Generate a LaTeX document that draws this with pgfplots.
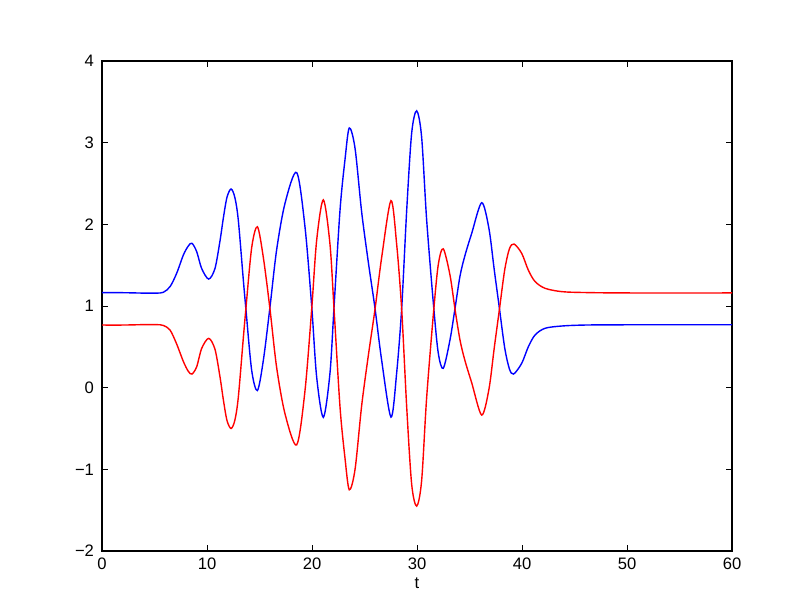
\documentclass[border=0pt]{standalone}
\usepackage{fontspec}
\setmainfont{Liberation Sans}
\usepackage{pgfplots}
\pgfplotsset{compat=1.18}
\usetikzlibrary{calc}

\pgfplotstableread{
t y
0 1.163
2 1.163
4 1.158
5.2 1.158
5.84 1.168
6.48 1.237
7.11 1.40
7.75 1.625
8.22 1.735
8.57 1.768
9.02 1.665
9.49 1.46
10.16 1.33
10.76 1.46
11.24 1.80
11.56 2.08
11.9 2.33
12.29 2.433
12.65 2.33
12.98 2.053
13.46 1.318
13.7 0.97
14.25 0.217
14.8 -0.035
15.37 0.339
16.0 0.99
16.63 1.686
17.43 2.258
18.54 2.635
19.33 1.971
19.97 1.0
20.44 0.135
21.08 -0.363
21.71 0.176
22.1 0.99
22.67 2.176
23.14 2.79
23.55 3.18
24.1 2.93
24.73 2.15
25.36 1.54
26.0 0.972
26.63 0.339
27.52 -0.36
28.06 0.176
28.54 0.97
29.02 2.176
29.49 3.115
29.97 3.39
30.44 3.07
30.92 2.053
31.6 0.97
32.03 0.42
32.5 0.237
33.14 0.584
33.62 0.97
34.1 1.37
34.57 1.62
35.21 1.89
36.16 2.265
36.85 1.95
37.35 1.45
37.85 0.97
38.35 0.49
38.8 0.23
39.2 0.167
39.97 0.298
40.6 0.50
41.24 0.645
42.19 0.727
43.78 0.755
46 0.767
50 0.77
60 0.77
}\blue

\pgfplotstableread{
t y
0 0.767
2 0.767
4 0.772
5.2 0.772
5.84 0.762
6.48 0.706
7.11 0.535
7.75 0.32
8.22 0.20
8.57 0.167
9.02 0.257
9.49 0.48
10.16 0.604
10.76 0.47
11.24 0.13
11.56 -0.15
11.9 -0.40
12.29 -0.50
12.65 -0.40
12.98 -0.12
13.46 0.61
13.7 0.96
14.25 1.71
14.8 1.97
15.37 1.59
16.0 0.96
16.63 0.25
17.43 -0.32
18.54 -0.70
19.33 -0.04
19.97 0.96
20.44 1.80
21.08 2.30
21.71 1.76
22.1 0.96
22.67 -0.24
23.14 -0.86
23.55 -1.25
24.1 -1.0
24.73 -0.22
25.36 0.39
26.0 0.96
26.63 1.59
27.52 2.29
28.06 1.76
28.54 0.96
29.02 -0.24
29.49 -1.18
29.97 -1.45
30.44 -1.14
30.92 -0.12
31.6 0.96
32.03 1.51
32.5 1.70
33.14 1.38
33.62 0.96
34.1 0.58
34.57 0.33
35.21 0.06
36.16 -0.335
36.85 -0.02
37.35 0.48
37.85 0.96
38.35 1.44
38.8 1.70
39.24 1.759
39.97 1.645
40.6 1.44
41.24 1.30
42.19 1.217
43.78 1.176
46 1.165
50 1.16
60 1.16
}\red

\begin{document}
\begin{tikzpicture}
\begin{axis}[
  name=ax,
  scale only axis,
  width=315pt, height=245pt,
  xmin=0, xmax=60, ymin=-2, ymax=4,
  xtick={0,10,...,60},
  ytick={-2,-1,0,1,2,3,4},
  yticklabels={−2,−1,0,1,2,3,4},
  tick align=inside,
  major tick length=2.8pt,
  tick style={black, line width=0.4pt},
  axis line style={line width=0.6pt},
  tick label style={font=\fontsize{8.3}{10}\selectfont},
  /pgf/number format/assume math mode=true,
  xlabel={t},
  xlabel style={font=\fontsize{8.3}{10}\selectfont, yshift=3pt},
  yticklabel style={xshift=-0.5pt},
]
\addplot[blue, line width=0.7pt, smooth] table[x=t, y=y] {\blue};
\addplot[red, line width=0.7pt, smooth] table[x=t, y=y] {\red};
\end{axis}
\pgfresetboundingbox
\path[use as bounding box] ($(ax.south west)+(-51pt,-30.5pt)$) rectangle ++(406pt,306pt);
\end{tikzpicture}
\end{document}
